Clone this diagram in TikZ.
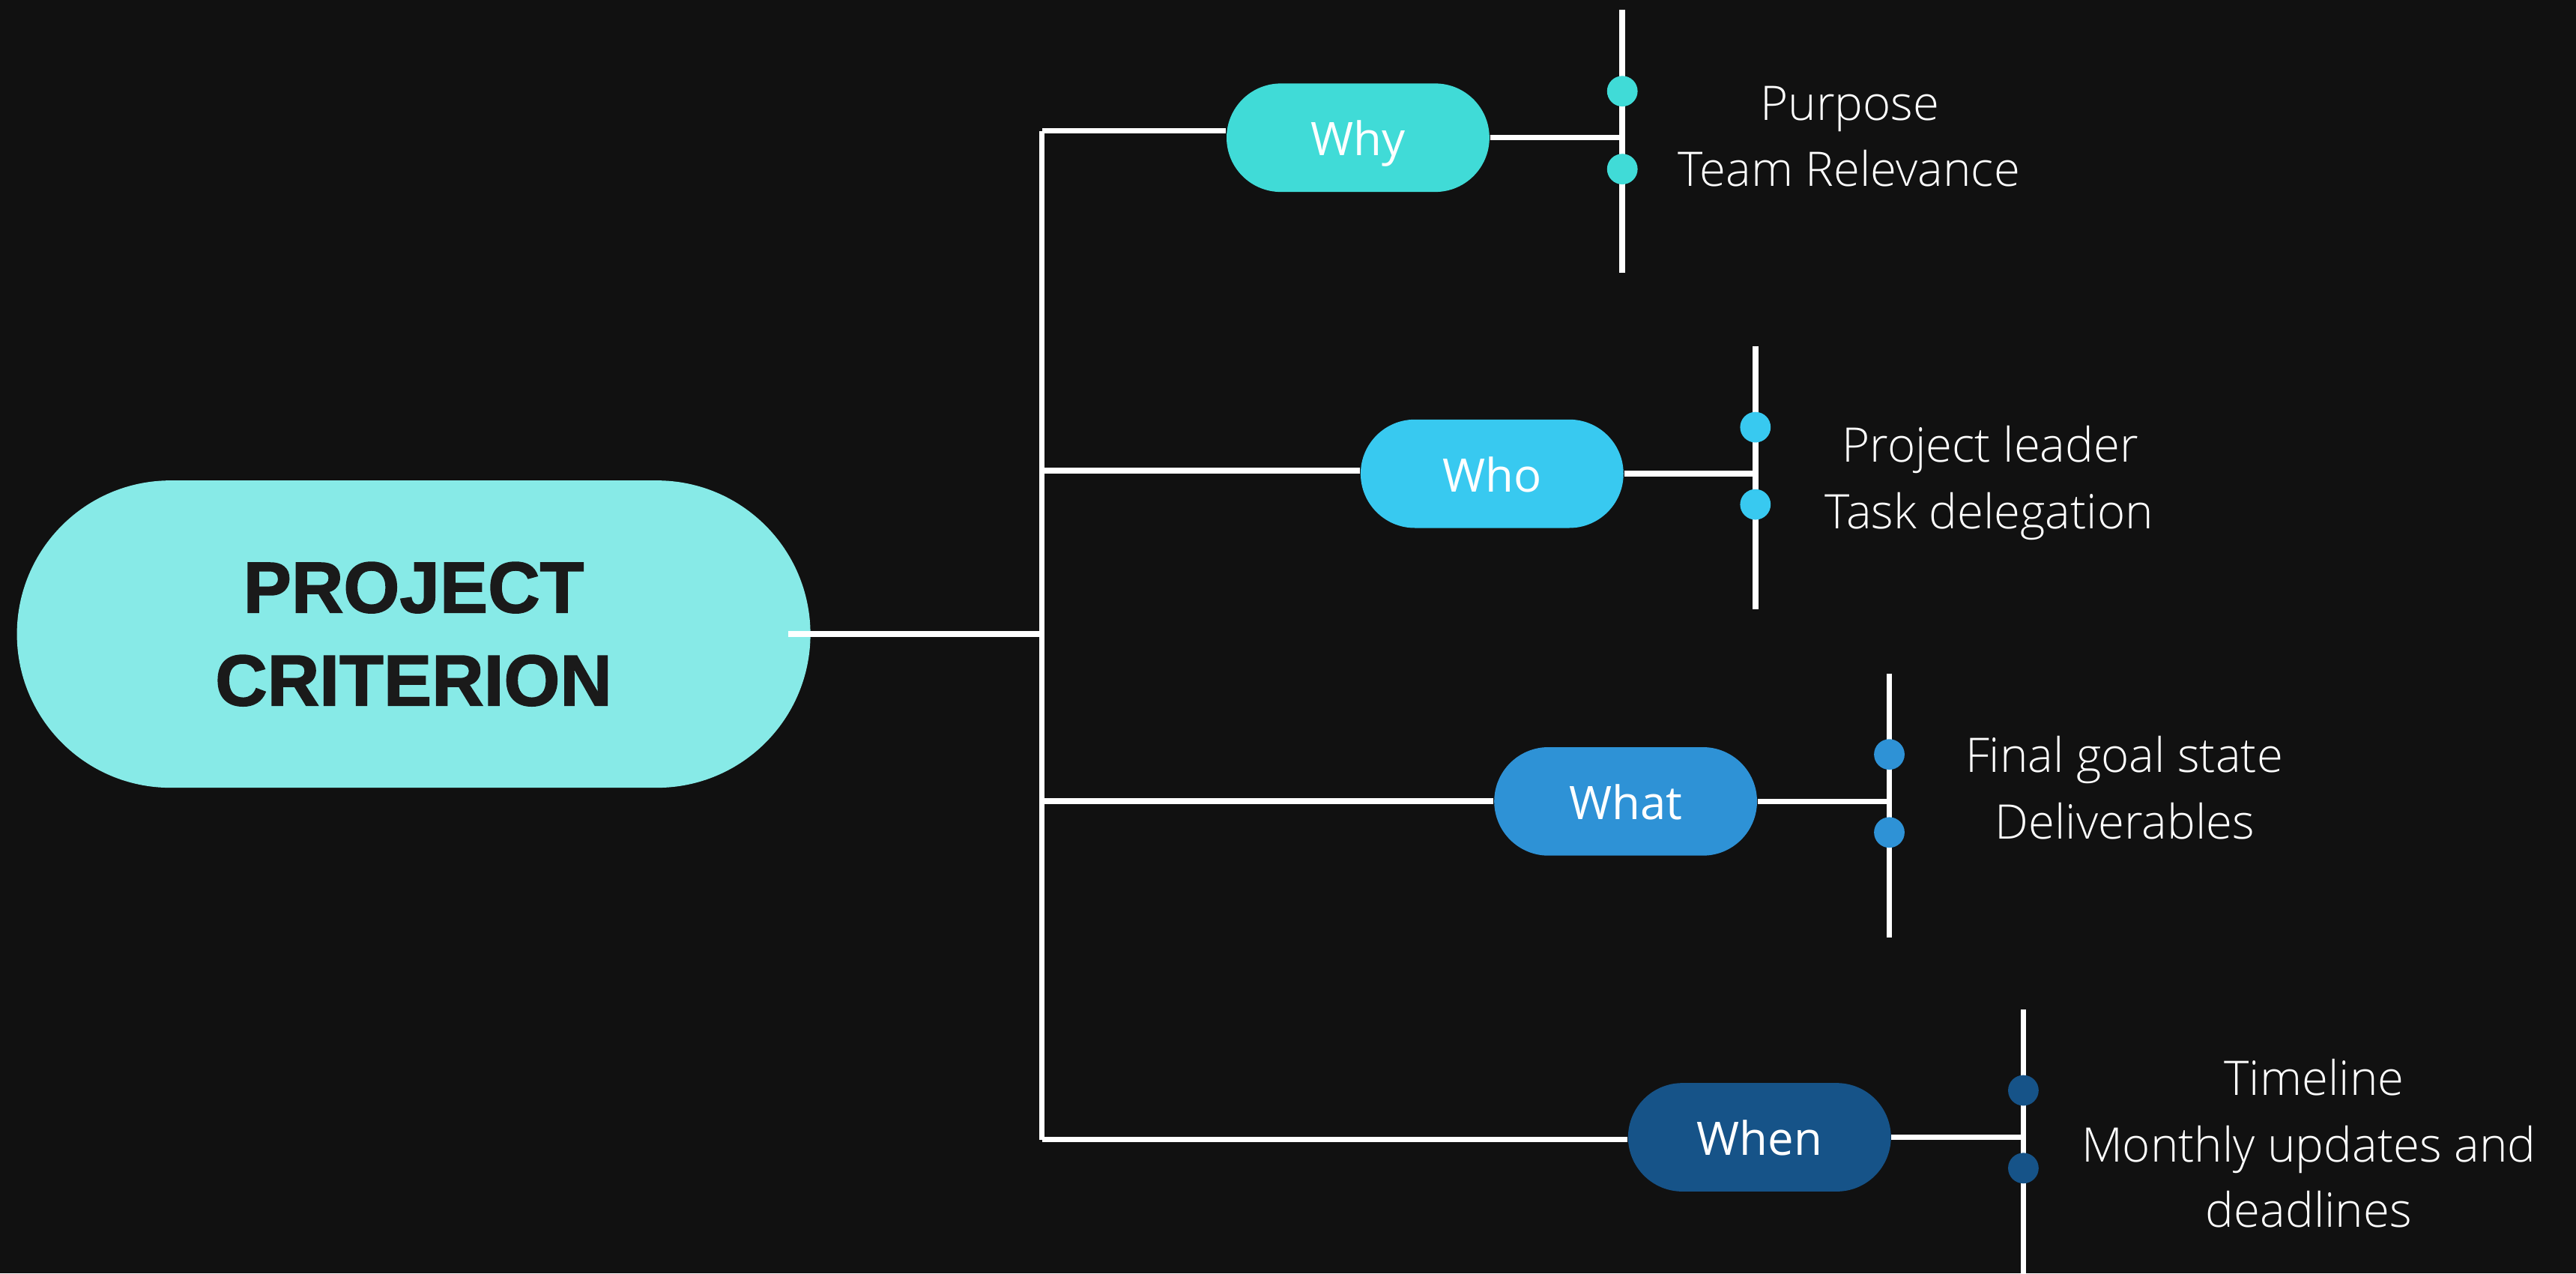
\documentclass[tikz,border=0pt]{standalone}
\usepackage{fontspec}
\setmainfont{Open Sans}
\newfontfamily\itemfont{Open Sans}[UprightFont={* Light}]
\newfontfamily\headfont{Liberation Sans}[BoldFeatures={FakeBold=1.6}]
\usetikzlibrary{shapes.misc}

\definecolor{bgcol}{HTML}{111111}
\definecolor{maincol}{HTML}{87EAE7}
\definecolor{whycol}{HTML}{40DBD7}
\definecolor{whocol}{HTML}{38C9F0}
\definecolor{whatcol}{HTML}{2E92D6}
\definecolor{whencol}{HTML}{165388}
\definecolor{headtext}{HTML}{1A1A1A}

\pgfdeclarelayer{back}
\pgfdeclarelayer{edges}
\pgfsetlayers{back,edges,main}

\tikzset{
  rootpill/.style={rounded rectangle, fill=maincol, draw=none,
    minimum width=483*0.02cm, minimum height=187*0.02cm, inner sep=0pt,
    align=center, text=headtext,
    font=\headfont\bfseries\fontsize{25}{32.2}\selectfont},
  qpill/.style={rounded rectangle, draw=none, minimum width=160*0.02cm,
    minimum height=66*0.02cm, inner sep=0pt, text=white,
    text height=12.5pt, text depth=0pt,
    font=\fontsize{16}{20}\selectfont},
  wire/.style={draw=white, line width=1.9pt},
  bar/.style={draw=white, line width=2pt},
  knob/.style={circle, minimum size=18.6*0.02cm, inner sep=0pt, draw=none},
  item/.style={anchor=base, text=white, inner sep=0pt, align=center,
    font=\itemfont\fontsize{16.5}{22.8}\selectfont},
}

\begin{document}
\begin{tikzpicture}[x=0.02cm, y=-0.02cm]
  \begin{pgfonlayer}{back}
    \fill[bgcol] (0,0) rectangle (1568,775);
  \end{pgfonlayer}
  \useasboundingbox (0,0) rectangle (1568,775);

  % root and the four questions
  \node[rootpill] (root) at (251.8,385.9) {PROJECT\\CRITERION};
  \node[qpill, fill=whycol]  (why)  at (826.6,83.8)  {Why};
  \node[qpill, fill=whocol]  (who)  at (908.2,288.3) {Who};
  \node[qpill, fill=whatcol] (what) at (989.5,487.7) {What};
  \node[qpill, fill=whencol] (when) at (1071,692.1)  {When};

  % trunk corners and branch points
  \coordinate (ttop) at (634.3,79.6);
  \coordinate (tmid) at (634.3,385.8);
  \coordinate (twho) at (634.3,286.4);
  \coordinate (twhat) at (634.3,487.5);
  \coordinate (tbot) at (634.3,693.6);

  % vertical bars on the right
  \coordinate (b1top) at (987.5,6);    \coordinate (b1bot) at (987.5,166);
  \coordinate (b2top) at (1068.5,210.7); \coordinate (b2bot) at (1068.5,370.9);
  \coordinate (b3top) at (1150,410);   \coordinate (b3bot) at (1150,570.4);
  \coordinate (b4top) at (1231.6,614.5); \coordinate (b4bot) at (1231.6,775);

  \begin{pgfonlayer}{edges}
    \draw[wire] (ttop) -- (tbot);
    \draw[wire] (ttop) -- (ttop -| why.west);
    \draw[wire] (twho) -- (twho -| who.west);
    \draw[wire] (twhat) -- (twhat -| what.west);
    \draw[wire] (tbot) -- (tbot -| when.west);
    \draw[wire] (why.east) -- (why.east -| b1top);
    \draw[wire] (who.east) -- (who.east -| b2top);
    \draw[wire] (what.east) -- (what.east -| b3top);
    \draw[wire] (when.east) -- (when.east -| b4top);
    \draw[bar] (b1top) -- (b1bot);
    \draw[bar] (b2top) -- (b2bot);
    \draw[bar] (b3top) -- (b3bot);
    \draw[bar] (b4top) -- (b4bot);
  \end{pgfonlayer}

  % root connector, drawn over the root pill
  \draw[wire] ([xshift=-14*0.02cm]root.east |- tmid) -- (tmid);

  % bullet knobs
  \node[knob, fill=whycol]  (k11) at (987.5,55.5) {};
  \node[knob, fill=whycol]  (k12) at (987.5,102.9) {};
  \node[knob, fill=whocol]  (k21) at (1068.5,260) {};
  \node[knob, fill=whocol]  (k22) at (1068.5,307) {};
  \node[knob, fill=whatcol] (k31) at (1150,459.1) {};
  \node[knob, fill=whatcol] (k32) at (1150,506.6) {};
  \node[knob, fill=whencol] (k41) at (1231.6,663.6) {};
  \node[knob, fill=whencol] (k42) at (1231.6,710.9) {};

  % item texts
  \node[item] (t11) at (1126,73.2) {Purpose};
  \node[item] (t12) at (1125.5,113.3) {Team Relevance};
  \node[item] (t21) at (1211.5,281.3) {Project leader};
  \node[item] (t22) at (1210.8,321.9) {Task delegation};
  \node[item] (t31) at (1293,470) {Final goal state};
  \node[item] (t32) at (1293.4,510.4) {Deliverables};
  \node[item] (t41) at (1408.6,666.6) {Timeline};
  \node[item] (t42) at (1405.3,747) {Monthly updates and\\deadlines};
\end{tikzpicture}
\end{document}
